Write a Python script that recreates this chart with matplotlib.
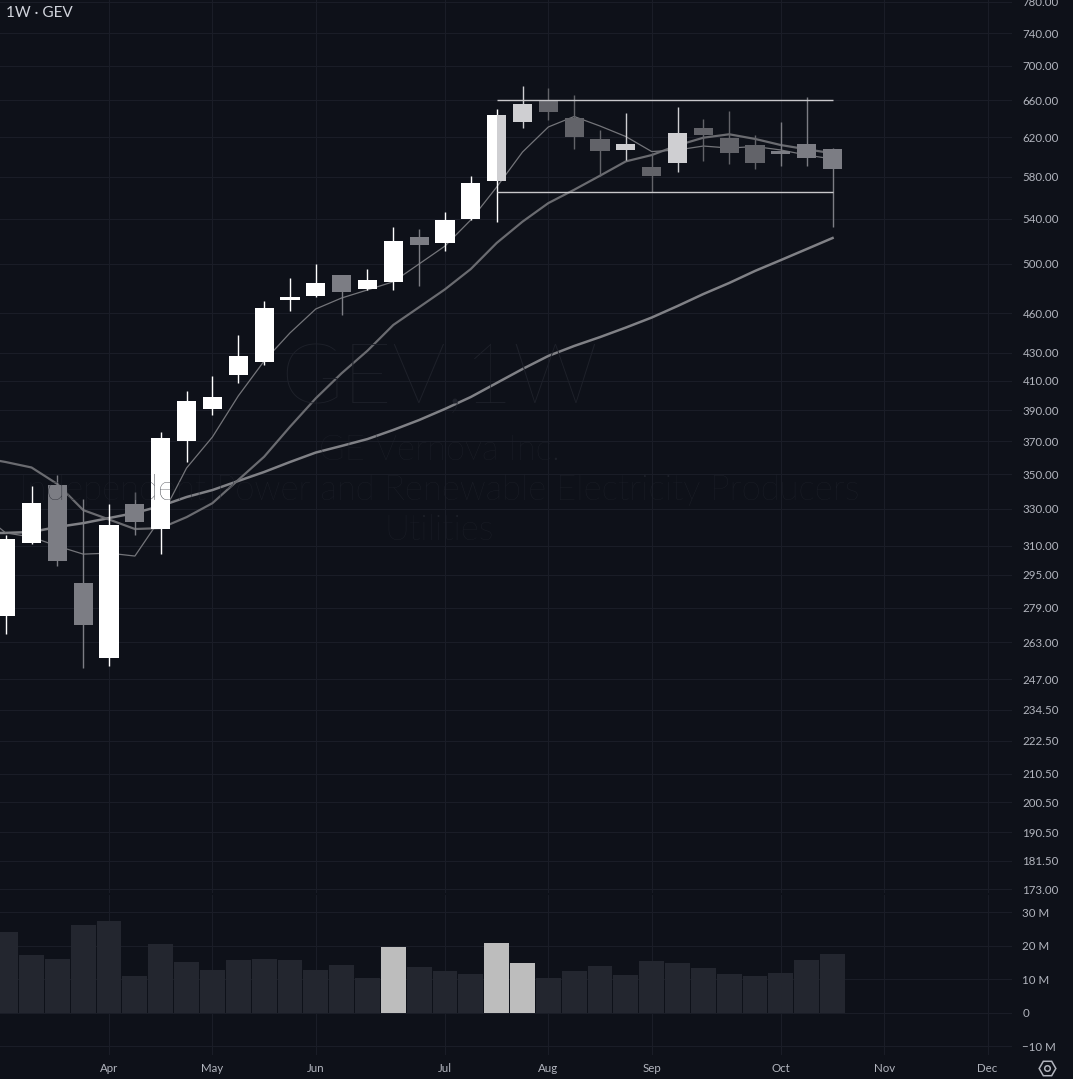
import matplotlib.pyplot as plt
import numpy as np
import pandas as pd
from matplotlib.lines import Line2D

# GEV weekly candles, week of Mar 10 2025 .. week of Oct 20 2025
weeks = pd.date_range("2025-03-10", periods=33, freq="W-MON")
opens = [275.2, 311.5, 343.5, 290.9, 256.3, 332.6, 318.8, 370.4, 390.9, 414.3, 423.3,
         470.6, 473.5, 490.7, 479.2, 484.9, 523.4, 518.1, 539.9, 575.9, 636.5, 659.7,
         640.9, 618.2, 606.8, 589.4, 593.7, 629.8, 619.2, 611.8, 606.0, 612.9, 607.7]
highs = [315.6, 343.0, 349.4, 335.6, 332.4, 339.6, 375.9, 403.0, 413.4, 443.1, 469.5,
         488.2, 500.0, 491.0, 495.7, 532.4, 530.6, 546.1, 580.5, 650.1, 676.3, 674.1,
         666.1, 627.7, 646.0, 603.6, 652.6, 639.8, 648.6, 622.4, 636.5, 663.8, 609.2]
lows = [266.6, 310.9, 299.4, 251.9, 252.8, 315.6, 305.7, 357.4, 386.9, 408.7, 421.4,
        461.8, 472.3, 458.7, 478.5, 478.4, 481.6, 511.1, 539.0, 537.2, 630.1, 638.4,
        607.4, 580.8, 596.5, 565.3, 584.8, 595.5, 592.5, 587.4, 590.7, 590.7, 532.6]
closes = [313.4, 333.1, 302.1, 271.0, 321.0, 322.8, 372.1, 396.2, 398.9, 427.7, 463.9,
          472.7, 484.1, 476.7, 486.6, 519.8, 516.6, 538.8, 573.6, 643.8, 656.0, 647.5,
          620.6, 606.0, 612.9, 580.8, 624.5, 622.4, 603.9, 593.7, 602.9, 598.8, 587.7]
# W = white, G = gray, D = dark gray, L = light gray
candle_kind = list("WWGGWGWWWWWWWGWWGWWWLDDDLDLDDDGGG")
split_candles = [19]  # right half drawn light gray

volume_m = [24.0, 17.3, 16.1, 26.3, 27.2, 11.0, 20.6, 15.2, 12.8, 15.8, 16.1, 15.8,
            12.8, 14.3, 10.4, 19.7, 13.7, 12.5, 11.6, 20.9, 14.9, 10.4, 12.5, 14.0,
            11.3, 15.5, 14.9, 13.4, 11.6, 11.0, 11.9, 15.8, 17.6]
volume_hi = [15, 19, 20]

# moving averages, week of Mar 3 .. week of Oct 20
ma_short = [328.2, 316.7, 314.5, 309.7, 305.5, 306.0, 304.5, 324.8, 353.6, 372.7, 399.6,
            424.0, 444.7, 463.2, 471.9, 478.4, 485.1, 500.0, 515.4, 538.8, 569.7, 604.6,
            630.9, 642.2, 631.9, 620.7, 605.1, 606.7, 610.8, 608.7, 610.3, 606.7, 601.5, 597.5]
ma_mid = [360.0, 357.2, 353.9, 344.1, 329.2, 324.0, 318.8, 319.3, 325.3, 333.1, 346.5,
          360.4, 379.2, 398.0, 415.3, 431.5, 450.8, 464.6, 478.9, 495.7, 518.1, 537.2,
          554.4, 567.1, 580.8, 595.1, 601.5, 611.5, 619.5, 623.1, 618.2, 611.8, 607.4, 603.3]
ma_long = [316.5, 316.7, 317.2, 319.9, 322.0, 324.8, 327.6, 331.5, 336.6, 340.6, 345.9,
           351.2, 357.2, 363.0, 367.1, 371.4, 377.2, 383.6, 390.9, 398.9, 408.5, 418.3,
           427.7, 435.0, 441.6, 448.8, 456.5, 465.5, 475.1, 484.1, 494.1, 503.3, 512.8, 522.5]

range_top, range_bottom = 660.1, 564.7
range_first, range_last = 19, 32

price_ticks = [780, 740, 700, 660, 620, 580, 540, 500, 460, 430, 410, 390, 370, 350, 330,
               310, 295, 279, 263, 247, 234.5, 222.5, 210.5, 200.5, 190.5, 181.5, 173]
vol_ticks = [30, 20, 10, 0, -10]
vol_labels = ["30 M", "20 M", "10 M", "0", "\u221210 M"]

BG = "#0e1119"
GRID = "#1a1d27"
TXT = "#b2b5be"
WM = "#1e212a"
kind_color = {"W": "#ffffff", "G": "#7c7d84", "D": "#626369", "L": "#cfcfd2"}

W, H = 1073, 1079
fig = plt.figure(figsize=(W / 100, H / 100), dpi=100, facecolor=BG)
right = 1012
ax = fig.add_axes([0, 1 - 893 / H, right / W, 893 / H])
vax = fig.add_axes([0, 1 - 1055 / H, right / W, 160 / H], sharex=ax)
for a in (ax, vax):
    a.set_facecolor(BG)
    for s in a.spines.values():
        s.set_visible(False)

x = np.arange(len(opens))
colors = [kind_color[k] for k in candle_kind]
o = np.array(opens)
c = np.array(closes)
bottom = np.minimum(o, c)
top = np.maximum(o, c)

ax.set_yscale("log")
ax.vlines(x, lows, highs, colors=colors, lw=1.0, zorder=3)
ax.bar(x, top - bottom, bottom=bottom, width=0.74, color=colors, zorder=4)
for i in split_candles:
    ax.bar(x[i], top[i] - bottom[i], bottom=bottom[i], width=0.37, align="edge",
           color=kind_color["L"], zorder=5)

xm = np.arange(-1, len(opens))
ax.plot(xm, ma_long, color="#808186", lw=1.8, zorder=2)
ax.plot(xm, ma_mid, color="#6a6b70", lw=1.6, zorder=2)
ax.plot(xm, ma_short, color="#74757a", lw=0.9, zorder=2)

ax.hlines([range_top, range_bottom], range_first, range_last, colors="#c8c8cb", lw=1.0, zorder=6)

ax.set_ylim(171.85, 782.65)
ax.set_yticks(price_ticks)
ax.set_yticklabels([f"{t:.2f}" for t in price_ticks])
ax.yaxis.set_minor_locator(plt.NullLocator())
ax.yaxis.tick_right()
ax.tick_params(axis="y", length=0, pad=7.5, labelsize=8.3, labelcolor=TXT)
ax.tick_params(axis="x", length=0, labelbottom=False)
ax.grid(True, color=GRID, lw=0.8, zorder=0)

# month ticks from the weekly calendar
cal = pd.date_range("2025-03-03", "2025-12-29", freq="W-MON")
cal_idx = np.arange(len(cal)) - 1
first = [i for i in range(1, len(cal)) if cal[i].month != cal[i - 1].month]
month_pos = cal_idx[first]
month_lab = [cal[i].strftime("%b") for i in first]

vax.bar(x, volume_m, width=0.96,
        color=["#bdbdbd" if i in volume_hi else "#23262f" for i in x], zorder=2)
vax.set_ylim(-12.6, 35.1)
vax.set_yticks(vol_ticks)
vax.set_yticklabels(vol_labels)
vax.yaxis.tick_right()
vax.tick_params(axis="y", length=0, pad=7.5, labelsize=8.3, labelcolor=TXT)
vax.set_xticks(month_pos)
vax.set_xticklabels(month_lab)
vax.tick_params(axis="x", length=0, pad=5.5, labelsize=8.3, labelcolor=TXT)
vax.grid(True, color=GRID, lw=0.8, zorder=0)
vax.set_xlim(-5.7 / 25.84, (right - 5.7) / 25.84)

# watermark
cx = 439 / W
fig.text(cx, 1 - 380 / H, "GEV,1W", ha="center", va="center", fontsize=61,
         color=WM, family="Lato", fontweight="light", zorder=0)
for yy, s in [(450, "GE Vernova Inc."),
              (490, "Independent Power and Renewable Electricity Producers"),
              (530, "Utilities")]:
    fig.text(cx, 1 - yy / H, s, ha="center", va="center", fontsize=25,
             color=WM, family="Lato", fontweight="light", zorder=0)

fig.text(6 / W, 1 - 13 / H, "1W \u00b7 GEV", ha="left", va="center", fontsize=11,
         color="#d1d4dc", family="Lato")

# settings icon
fig.add_artist(Line2D([1047 / W], [1 - 1068 / H], marker="H", markersize=12,
                      markerfacecolor="none", markeredgecolor=TXT, markeredgewidth=1.1,
                      transform=fig.transFigure))
fig.add_artist(Line2D([1047 / W], [1 - 1068 / H], marker="o", markersize=4,
                      markerfacecolor="none", markeredgecolor=TXT, markeredgewidth=1.1,
                      transform=fig.transFigure))

for t in ax.get_yticklabels() + vax.get_yticklabels() + vax.get_xticklabels():
    t.set_family("Lato")

fig.savefig("out.png", dpi=100, facecolor=BG)
